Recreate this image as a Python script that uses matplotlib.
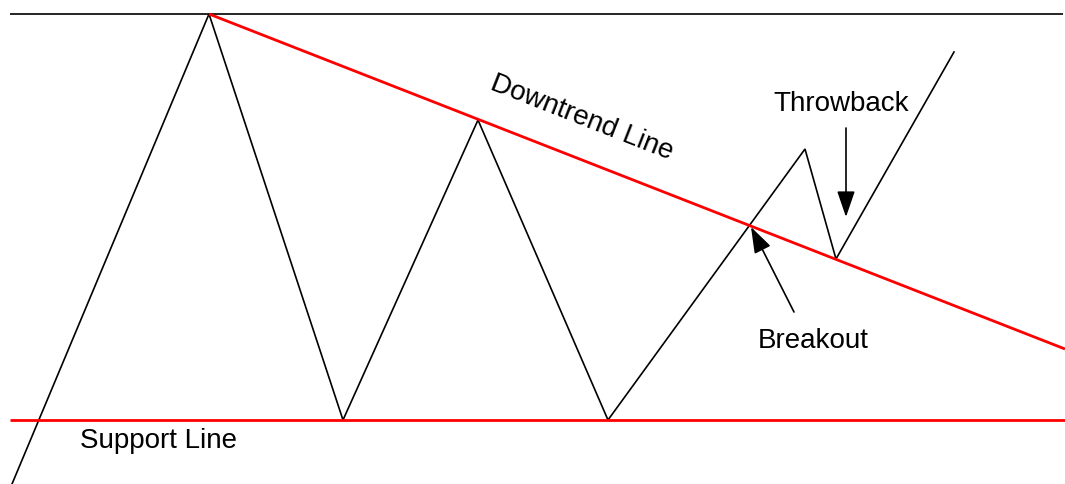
import matplotlib
matplotlib.use("Agg")
import matplotlib.pyplot as plt

plt.rcParams['font.family'] = ['Liberation Sans', 'DejaVu Sans']

# Price path (zigzag), in chart units
price_x = [12, 209, 343, 478, 608, 805, 836, 954]
price_y = [484, 14, 420, 120, 420, 149, 259, 52]

# Reference lines
top_x = [10, 1063]
top_y = [14, 14]
support_x = [10, 1065]
support_y = [420, 420]
downtrend_x = [209, 1065]
downtrend_y = [14, 349]

# Annotations
breakout_tip = (751, 227)
breakout_tail = (794, 312)
throwback_tip = (846, 217)
throwback_tail = (846, 128)

fig = plt.figure(figsize=(10.65, 4.84), dpi=100)
ax = fig.add_axes([0, 0, 1, 1])
ax.set_xlim(0, 1065)
ax.set_ylim(484, 0)
ax.axis('off')

ax.plot(top_x, top_y, color='black', lw=1.2, solid_capstyle='butt')
ax.plot(price_x, price_y, color='black', lw=1.2, solid_joinstyle='miter')
ax.plot(support_x, support_y, color='#ff0000', lw=2.0, solid_capstyle='butt')
ax.plot(downtrend_x, downtrend_y, color='#ff0000', lw=2.0, solid_capstyle='butt')

arrow_style = '-|>,head_length=1.6,head_width=0.55'
for tip, tail in [(breakout_tip, breakout_tail), (throwback_tip, throwback_tail)]:
    ax.annotate('', xy=tip, xytext=tail,
                arrowprops=dict(arrowstyle=arrow_style, color='black', lw=1.2,
                                shrinkA=0, shrinkB=0, mutation_scale=10))

fs = 20
ax.text(582, 118, 'Downtrend Line', fontsize=fs, rotation=-21.4,
        rotation_mode='anchor', ha='center', va='center')
ax.text(841, 104, 'Throwback', fontsize=fs, ha='center', va='center')
ax.text(813, 341, 'Breakout', fontsize=fs, ha='center', va='center')
ax.text(80, 441, 'Support Line', fontsize=fs, ha='left', va='center')

fig.savefig('out.png', dpi=100, facecolor='white')
